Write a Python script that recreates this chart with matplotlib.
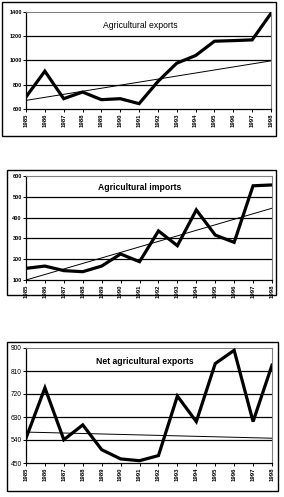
import matplotlib
matplotlib.use("Agg")
import matplotlib.pyplot as plt
from matplotlib.patches import Rectangle
import numpy as np

plt.rcParams['font.family'] = ['Liberation Sans', 'DejaVu Sans']

W, H = 284, 497

years = list(range(1985, 1999))

exports = [699, 912, 685, 740, 677, 685, 644, 827, 978, 1041, 1159, 1164, 1170, 1389]
imports = [156, 167, 145, 140, 167, 225, 188, 336, 265, 437, 316, 281, 553, 557]
net_exports = [547, 744, 541, 599, 502, 466, 459, 479, 712, 612, 839, 891, 612, 833]

# trend line end values (1985, 1998)
exports_trend = [671, 997]
imports_trend = [100, 445]
net_trend = [571, 547]

exports_ticks = [600, 800, 1000, 1200, 1400]
imports_ticks = [100, 200, 300, 400, 500, 600]
net_ticks = [450, 540, 630, 720, 810, 900]

charts = [
    # title, values, trend, yticks, frame box, plot box (px: left, top, right, bottom), title pos, bold
    ("Agricultural exports", exports, exports_trend, exports_ticks,
     (2, 2, 276, 136), (26, 12, 271, 109), (140, 25), False, True),
    ("Agricultural imports", imports, imports_trend, imports_ticks,
     (7, 170, 276, 295), (26, 176, 272, 280), (140, 188), True, True),
    ("Net agricultural exports", net_exports, net_trend, net_ticks,
     (7, 342, 278, 491), (26, 348, 272, 463), (145, 362), True, False),
]

fig = plt.figure(figsize=(W / 100, H / 100), dpi=100)

for title, vals, trend, yt, frame, box, tpos, tbold, ybold in charts:
    fl, ft, fr, fb = frame
    fig.patches.append(Rectangle((fl / W, 1 - fb / H), (fr - fl) / W, (fb - ft) / H,
                                 transform=fig.transFigure, fill=False,
                                 edgecolor='black', linewidth=1.0))
    l, t, r, b = box
    ax = fig.add_axes([l / W, 1 - b / H, (r - l) / W, (b - t) / H])
    ax.set_xlim(years[0], years[-1])
    ax.set_ylim(yt[0], yt[-1])
    for v in yt[1:-1]:
        ax.axhline(v, color='black', linewidth=0.9, zorder=1)
    ax.plot([years[0], years[-1]], trend, color='black', linewidth=0.7, zorder=2)
    ax.plot(years, vals, color='black', linewidth=2.3, zorder=3,
            solid_joinstyle='miter')
    ax.set_xticks(years)
    ax.set_xticklabels([str(y) for y in years], rotation=90, fontsize=4.3,
                       fontweight='bold')
    ax.set_yticks(yt)
    ax.set_yticklabels([str(v) for v in yt], fontsize=4.0 if ybold else 4.8,
                       fontweight='bold' if ybold else 'normal')
    ax.tick_params(axis='both', length=2, width=0.7, pad=1)
    for s in ['top', 'right']:
        ax.spines[s].set_color('#808080')
        ax.spines[s].set_linewidth(0.8)
    for s in ['left', 'bottom']:
        ax.spines[s].set_linewidth(0.9)
    fig.text(tpos[0] / W, 1 - tpos[1] / H, title, ha='center', va='center',
             fontsize=6.2, fontweight='bold' if tbold else 'normal')

fig.savefig('out.png', dpi=100)
